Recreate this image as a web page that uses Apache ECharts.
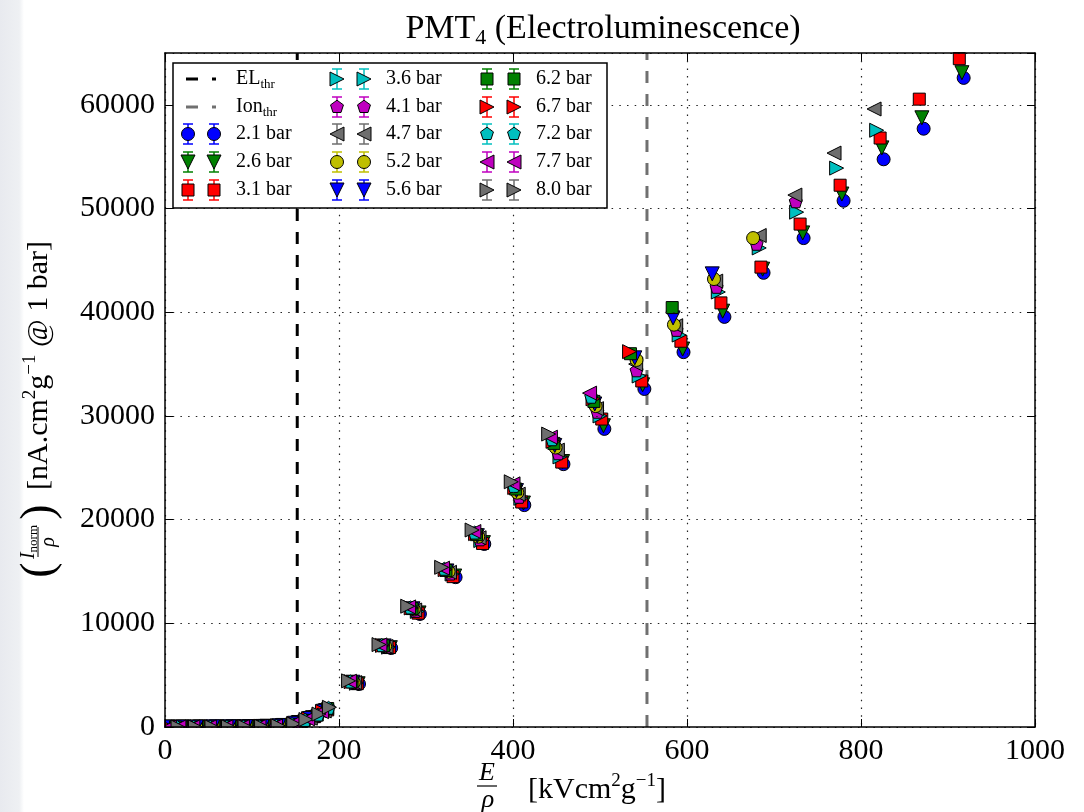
<!DOCTYPE html>
<html>
<head>
<meta charset="utf-8">
<script src="https://cdn.jsdelivr.net/npm/echarts@6/dist/echarts.min.js"></script>
<style>
  html, body { margin: 0; padding: 0; background: #ffffff; }
  #chart { width: 1084px; height: 812px; }
</style>
</head>
<body>
<div id="chart"></div>
<script>
// ---- measured light yield, one list of [E/rho, I_norm/rho] pairs per pressure ----
const pressureLabels = ['2.1 bar', '2.6 bar', '3.1 bar', '3.6 bar', '4.1 bar', '4.7 bar', '5.2 bar',
                        '5.6 bar', '6.2 bar', '6.7 bar', '7.2 bar', '7.7 bar', '8.0 bar'];

const p21 = [[6,0],[24,5],[43,10],[62,15],[81,20],[100,40],[119,70],[138,160],[156,480],[171,950],[186,1600],
  [223,4150],[260,7620],[293,10900],[334,14450],[367,17650],[413,21400],[458,25350],[505,28750],[551,32600],
  [596,36150],[643,39550],[688,43800],[734,47150],[780,50750],[826,54750],[872,57700],[918,62600]];
const p26 = [[4,0],[22,5],[41,10],[60,15],[79,25],[98,35],[117,70],[136,150],[154,430],[170,900],[185,1580],
  [222,4170],[259,7650],[292,11000],[333,14560],[366,17780],[412,21600],[457,25600],[504,29050],[549,33000],
  [595,36450],[641,40100],[687,44150],[733,47650],[778,51400],[824,55850],[870,58750],[916,63100]];
const p31 = [[7,0],[26,5],[45,10],[64,15],[83,25],[102,40],[121,80],[140,190],[157,520],[172,1000],[187,1650],
  [221,4180],[258,7660],[291,10980],[331,14500],[365,17700],[410,21700],[456,25550],[502,29700],[548,33370],
  [593,37200],[639,40900],[685,44350],[730,48500],[776,52250],[822,56800],[867,60550],[913,64450]];
const p36 = [[3,0],[21,5],[40,10],[59,20],[78,25],[97,35],[116,65],[135,140],[153,420],[169,880],[184,1560],
  [220,4220],[257,7700],[290,11150],[330,14750],[363,17980],[409,22050],[454,26050],[500,30000],[545,33850],
  [591,37800],[636,41950],[683,46200],[726,49650],[772,53900],[818,57550]];
const p41 = [[9,0],[28,5],[47,10],[66,20],[85,30],[104,45],[123,90],[142,220],[158,560],[173,1050],[185,1620],
  [219,4250],[255,7720],[288,11200],[328,14800],[362,18100],[407,22200],[452,26400],[497,30400],[542,34400],
  [588,38300],[634,42450],[680,46600],[725,50700]];
const p47 = [[2,0],[19,5],[37,10],[56,15],[75,20],[94,30],[113,60],[132,130],[150,380],[167,850],[183,1550],
  [218,4280],[254,7760],[287,11280],[327,14920],[361,18250],[406,22450],[451,26700],[496,30700],[541,35000],
  [587,38700],[633,43000],[683,47400],[724,51300],[769,55350],[815,59600]];
const p52 = [[10,0],[29,5],[48,10],[67,15],[86,30],[105,45],[124,95],[143,240],[159,600],[174,1100],[186,1700],
  [217,4300],[253,7780],[286,11330],[326,14980],[360,18350],[405,22600],[449,26950],[495,30950],[542,35400],
  [585,38800],[631,43200],[676,47150]];
const p56 = [[1,0],[18,5],[36,10],[55,15],[74,20],[93,30],[112,55],[131,120],[149,360],[166,820],[182,1520],
  [216,4320],[252,7820],[285,11400],[324,15050],[359,18450],[404,22800],[448,27150],[494,31150],[540,35600],
  [584,39450],[629,43700]];
const p62 = [[12,0],[31,5],[50,10],[69,20],[88,30],[107,50],[126,100],[145,260],[160,640],[175,1150],[187,1780],
  [215,4350],[251,7840],[284,11420],[323,15100],[358,18550],[403,22950],[447,27350],[493,31400],[535,36000],
  [583,40450]];
const p67 = [[3,0],[17,5],[34,10],[53,15],[72,20],[91,30],[110,50],[129,110],[148,340],[165,800],[181,1500],
  [214,4370],[250,7870],[283,11480],[322,15180],[357,18650],[402,23100],[446,27550],[492,31650],[534,36200]];
const p72 = [[14,0],[33,5],[52,10],[71,20],[90,35],[109,55],[128,105],[146,280],[161,680],[176,1200],[188,1850],
  [213,4390],[249,7890],[282,11530],[321,15260],[356,18750],[401,23250],[445,27750],[490,31850]];
const p77 = [[5,0],[16,5],[32,10],[51,15],[70,20],[89,30],[108,50],[127,100],[147,320],[164,780],[180,1480],
  [212,4410],[247,7920],[280,11580],[319,15320],[355,18850],[400,23450],[443,27950],[488,32200]];
const p80 = [[15,0],[35,5],[54,10],[73,20],[92,35],[111,60],[130,115],[148,300],[162,720],[177,1250],[189,1900],
  [211,4450],[246,7950],[279,11650],[318,15400],[353,19000],[398,23650],[441,28250]];

const pressureData = [p21, p26, p31, p36, p41, p47, p52, p56, p62, p67, p72, p77, p80];

// thresholds (kV cm^2 g^-1) and the vertical span they are drawn over
const elThreshold = 152;
const ionThreshold = 554;
const thresholdSpan = [0, 65000];

// axis ranges and tick step
const xRange = [0, 1000];
const xStep = 200;
const yRange = [0, 65000];
const yStep = 10000;

// ---- styles ----
const FONT = "'Liberation Serif', 'DejaVu Serif', serif";
const markerStyles = [
  { shape: 'circle',   color: '#0000ff' },
  { shape: 'triDown',  color: '#008000' },
  { shape: 'square',   color: '#ff0000' },
  { shape: 'triRight', color: '#00bfbf' },
  { shape: 'pentagon', color: '#bf00bf' },
  { shape: 'triLeft',  color: '#6e6e6e' },
  { shape: 'circle',   color: '#bfbf00' },
  { shape: 'triDown',  color: '#0000ff' },
  { shape: 'square',   color: '#008000' },
  { shape: 'triRight', color: '#ff0000' },
  { shape: 'pentagon', color: '#00bfbf' },
  { shape: 'triLeft',  color: '#bf00bf' },
  { shape: 'triRight', color: '#6e6e6e' }
];
const PENTAGON = 'path://M0,-1L0.951,-0.309L0.588,0.809L-0.588,0.809L-0.951,-0.309Z';
const symbolSpec = {
  circle:   { symbol: 'circle',   rotate: 0,   size: 13 },
  square:   { symbol: 'rect',     rotate: 0,   size: 12 },
  triDown:  { symbol: 'triangle', rotate: 180, size: 14 },
  triRight: { symbol: 'triangle', rotate: -90, size: 14 },
  triLeft:  { symbol: 'triangle', rotate: 90,  size: 14 },
  pentagon: { symbol: PENTAGON,   rotate: 0,   size: 13 }
};

const chart = echarts.init(document.getElementById('chart'), null, { renderer: 'canvas' });

// ---- series ----
const thresholdSeries = [
  { name: 'EL_thr', value: elThreshold, color: '#000000' },
  { name: 'Ion_thr', value: ionThreshold, color: '#707070' }
].map(t => ({
  name: t.name,
  type: 'line',
  data: [[t.value, thresholdSpan[0]], [t.value, thresholdSpan[1]]],
  symbol: 'none',
  silent: true,
  lineStyle: { color: t.color, width: 3, type: [12, 11] },
  z: 1
}));

const pressureSeries = pressureData.map((d, i) => {
  const spec = symbolSpec[markerStyles[i].shape];
  return {
    name: pressureLabels[i],
    type: 'scatter',
    data: d,
    symbol: spec.symbol,
    symbolRotate: spec.rotate,
    symbolSize: spec.size,
    itemStyle: { color: markerStyles[i].color, borderColor: '#000000', borderWidth: 1, opacity: 1 },
    emphasis: { disabled: true },
    z: 2
  };
});

// ---- legend drawn as graphics: two markers with error bars per entry ----
function markerGraphic(shape, cx, cy, color) {
  const st = { fill: color, stroke: '#000000', lineWidth: 1 };
  const r = 7;
  if (shape === 'circle') return { type: 'circle', shape: { cx, cy, r: 6.5 }, style: st, z: 22 };
  if (shape === 'square') return { type: 'rect', shape: { x: cx - 6, y: cy - 6, width: 12, height: 12 }, style: st, z: 22 };
  let pts;
  if (shape === 'triDown') pts = [[cx - r, cy - r], [cx + r, cy - r], [cx, cy + r]];
  else if (shape === 'triRight') pts = [[cx - r, cy - r], [cx - r, cy + r], [cx + r, cy]];
  else if (shape === 'triLeft') pts = [[cx + r, cy - r], [cx + r, cy + r], [cx - r, cy]];
  else {
    pts = [];
    for (let k = 0; k < 5; k++) {
      const a = -Math.PI / 2 + k * 2 * Math.PI / 5;
      pts.push([cx + 6.8 * Math.cos(a), cy + 6.8 * Math.sin(a)]);
    }
  }
  return { type: 'polygon', shape: { points: pts }, style: st, z: 22 };
}
function errorBarGraphic(cx, cy, color) {
  const s = { stroke: color, lineWidth: 1.5 };
  return [
    { type: 'line', shape: { x1: cx, y1: cy - 10, x2: cx, y2: cy + 10 }, style: s, z: 21 },
    { type: 'line', shape: { x1: cx - 5, y1: cy - 10, x2: cx + 5, y2: cy - 10 }, style: s, z: 21 },
    { type: 'line', shape: { x1: cx - 5, y1: cy + 10, x2: cx + 5, y2: cy + 10 }, style: s, z: 21 }
  ];
}

const legendBox = { x: 173, y: 63, w: 434, h: 145 };
const legendRows = [79, 107, 134, 162, 190];
const legendMarkerX = [[188, 214], [337, 364], [487, 514]];
const legendTextX = [236, 386, 536];
const legendEntries = [
  { kind: 'line', base: 'EL', sub: 'thr', color: '#000000' },
  { kind: 'line', base: 'Ion', sub: 'thr', color: '#707070' }
].concat(pressureLabels.map((lab, i) => ({ kind: 'marker', label: lab, idx: i })));

const legendGraphics = [{
  type: 'rect',
  shape: { x: legendBox.x, y: legendBox.y, width: legendBox.w, height: legendBox.h },
  style: { fill: '#ffffff', stroke: '#000000', lineWidth: 1.5 },
  z: 20
}];
legendEntries.forEach((e, n) => {
  const col = Math.floor(n / 5), row = n % 5;
  const cy = legendRows[row];
  if (e.kind === 'line') {
    legendGraphics.push({
      type: 'line',
      shape: { x1: legendMarkerX[col][0] - 2, y1: cy, x2: legendMarkerX[col][1] + 2, y2: cy },
      style: { stroke: e.color, lineWidth: 3, lineDash: [12, 14] }, z: 21
    });
    legendGraphics.push({
      type: 'text', x: legendTextX[col], y: cy,
      style: {
        text: '{m|' + e.base + '}{s|' + e.sub + '}',
        align: 'left', verticalAlign: 'middle', textAlign: 'left', textVerticalAlign: 'middle',
        rich: {
          m: { fontFamily: FONT, fontSize: 20, lineHeight: 24, fill: '#000' },
          s: { fontFamily: FONT, fontSize: 13, lineHeight: 14, verticalAlign: 'bottom', fill: '#000' }
        }
      }, z: 21
    });
  } else {
    const ms = markerStyles[e.idx];
    legendMarkerX[col].forEach(mx => {
      errorBarGraphic(mx, cy, ms.color).forEach(g => legendGraphics.push(g));
      legendGraphics.push(markerGraphic(ms.shape, mx, cy, ms.color));
    });
    legendGraphics.push({
      type: 'text', x: legendTextX[col], y: cy,
      style: { text: e.label, font: '20px ' + FONT, fill: '#000',
               align: 'left', verticalAlign: 'middle', textAlign: 'left', textVerticalAlign: 'middle' },
      z: 21
    });
  }
});

// ---- titles ----
const supRich = {
  t: { fontFamily: FONT, fontSize: 30, lineHeight: 36, fill: '#000' },
  u: { fontFamily: FONT, fontSize: 19, lineHeight: 20, verticalAlign: 'top', fill: '#000' }
};

const titleGraphic = {
  type: 'text', x: 603, y: 29,
  style: {
    text: '{a|PMT}{b|4}{a| (Electroluminescence)}',
    align: 'center', verticalAlign: 'middle', textAlign: 'center', textVerticalAlign: 'middle',
    rich: {
      a: { fontFamily: FONT, fontSize: 34, lineHeight: 40, fill: '#000' },
      b: { fontFamily: FONT, fontSize: 22, lineHeight: 22, verticalAlign: 'bottom', fill: '#000' }
    }
  }, z: 10
};

const xTitleGraphics = [
  { type: 'text', x: 487, y: 773, style: { text: 'E', font: 'italic 26px ' + FONT, fill: '#000',
    align: 'center', verticalAlign: 'middle', textAlign: 'center', textVerticalAlign: 'middle' }, z: 10 },
  { type: 'line', shape: { x1: 477, y1: 786, x2: 497, y2: 786 }, style: { stroke: '#000', lineWidth: 1.2 }, z: 10 },
  { type: 'text', x: 488, y: 800, style: { text: 'ρ', font: 'italic 26px ' + FONT, fill: '#000',
    align: 'center', verticalAlign: 'middle', textAlign: 'center', textVerticalAlign: 'middle' }, z: 10 },
  { type: 'text', x: 528, y: 790, style: {
      text: '{t|[kVcm}{u|2}{t|g}{u|−1}{t|]}',
      align: 'left', verticalAlign: 'middle', textAlign: 'left', textVerticalAlign: 'middle',
      rich: supRich }, z: 10 }
];

const yTitleGraphic = {
  type: 'group', x: 40, y: 400, rotation: Math.PI / 2,
  children: [
    { type: 'text', x: -170, y: 0, style: { text: '(', font: '46px ' + FONT, fill: '#000',
      align: 'center', verticalAlign: 'middle', textAlign: 'center', textVerticalAlign: 'middle' } },
    { type: 'text', x: -142, y: -11, style: {
        text: '{i|I}{s|norm}',
        align: 'center', verticalAlign: 'middle', textAlign: 'center', textVerticalAlign: 'middle',
        rich: {
          i: { fontFamily: FONT, fontStyle: 'italic', fontSize: 20, lineHeight: 22, fill: '#000' },
          s: { fontFamily: FONT, fontSize: 13, lineHeight: 12, verticalAlign: 'bottom', fill: '#000' }
        } } },
    { type: 'line', shape: { x1: -157, y1: -2, x2: -127, y2: -2 }, style: { stroke: '#000', lineWidth: 1 } },
    { type: 'text', x: -142, y: 9, style: { text: 'ρ', font: 'italic 20px ' + FONT, fill: '#000',
      align: 'center', verticalAlign: 'middle', textAlign: 'center', textVerticalAlign: 'middle' } },
    { type: 'text', x: -112, y: 0, style: { text: ')', font: '46px ' + FONT, fill: '#000',
      align: 'center', verticalAlign: 'middle', textAlign: 'center', textVerticalAlign: 'middle' } },
    { type: 'text', x: -90, y: -1, style: {
        text: '{t|[nA.cm}{u|2}{t|g}{u|−1}{t| @ 1 bar]}',
        align: 'left', verticalAlign: 'middle', textAlign: 'left', textVerticalAlign: 'middle',
        rich: supRich } }
  ],
  z: 10
};

// left margin band and the strip that trims markers sitting on the frame
const frameGraphics = [
  { type: 'rect', shape: { x: 0, y: 0, width: 24, height: 812 },
    style: { fill: new echarts.graphic.LinearGradient(0, 0, 1, 0, [
      { offset: 0, color: '#e8eaef' }, { offset: 0.8, color: '#eef0f3' }, { offset: 1, color: '#ffffff' }]) },
    z: 0 },
  { type: 'rect', shape: { x: 156, y: 728, width: 890, height: 9 }, style: { fill: '#ffffff' }, z: 6 },
  { type: 'rect', shape: { x: 156, y: 690, width: 8.3, height: 40 }, style: { fill: '#ffffff' }, z: 6 }
];

const axisCommon = {
  axisLine: { show: true, onZero: false, lineStyle: { color: '#000', width: 1.5 } },
  axisTick: { show: true, inside: true, length: 8, lineStyle: { color: '#000', width: 1 } },
  z: 10
};

const option = {
  animation: false,
  backgroundColor: '#ffffff',
  grid: { left: 165, right: 49, top: 53, bottom: 85, containLabel: false },
  xAxis: [
    Object.assign({}, axisCommon, {
      type: 'value', min: xRange[0], max: xRange[1], interval: xStep, position: 'bottom',
      axisLabel: { show: true, margin: 9, color: '#000', fontFamily: FONT, fontSize: 30,
                   formatter: v => String(v) },
      splitLine: { show: true, lineStyle: { color: '#222', width: 1.2, type: [1.5, 6.2] } }
    }),
    Object.assign({}, axisCommon, {
      type: 'value', min: xRange[0], max: xRange[1], interval: xStep, position: 'top',
      axisLabel: { show: false }, splitLine: { show: false }
    })
  ],
  yAxis: [
    Object.assign({}, axisCommon, {
      type: 'value', min: yRange[0], max: yRange[1], interval: yStep, position: 'left',
      axisLabel: { show: true, margin: 10, color: '#000', fontFamily: FONT, fontSize: 30,
                   showMaxLabel: false, formatter: v => (v % yStep === 0 ? String(v) : '') },
      splitLine: { show: true, lineStyle: { color: '#222', width: 1.2, type: [1.5, 6.2] } }
    }),
    Object.assign({}, axisCommon, {
      type: 'value', min: yRange[0], max: yRange[1], interval: yStep, position: 'right',
      axisLabel: { show: false }, splitLine: { show: false }
    })
  ],
  series: thresholdSeries.concat(pressureSeries),
  graphic: { elements: frameGraphics.concat([titleGraphic], xTitleGraphics, [yTitleGraphic], legendGraphics) }
};

chart.setOption(option);
</script>
</body>
</html>
